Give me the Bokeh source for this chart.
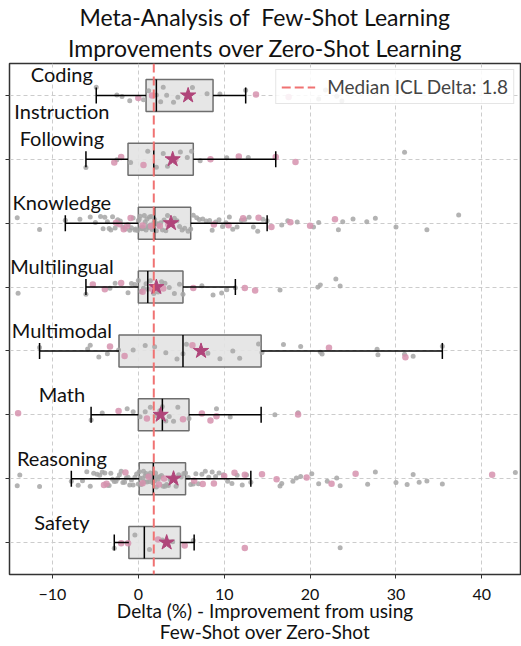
import math
from bokeh.plotting import figure
from bokeh.models import (ColumnDataSource, Range1d, Span, Legend, LegendItem, Title,
                          FixedTicker, CustomJSTickFormatter)
from bokeh.transform import jitter
from bokeh.core.properties import value
from bokeh.embed import file_html
from bokeh.resources import INLINE

# ---------------- data ----------------
categories = ["Coding", "Instruction Following", "Knowledge", "Multilingual",
              "Multimodal", "Math", "Reasoning", "Safety"]
label_texts = ["Coding", "Instruction\nFollowing", "Knowledge", "Multilingual",
               "Multimodal", "Math", "Reasoning", "Safety"]

q1 = [0.9, -1.2, 0.0, 0.0, -2.25, 0.0, 0.1, -1.1]
median = [2.1, 1.8, 1.9, 1.1, 5.2, 2.8, 1.75, 0.7]
q3 = [8.7, 6.4, 6.1, 5.2, 14.3, 5.9, 5.5, 4.9]
whisker_lo = [-4.9, -6.1, -8.5, -6.1, -11.5, -5.5, -7.8, -2.8]
whisker_hi = [12.5, 16.0, 15.0, 11.3, 35.4, 14.3, 13.1, 6.5]
mean = [5.8, 4.0, 3.8, 2.1, 7.3, 2.6, 4.1, 3.3]

median_delta = 1.8

coding_grey = [-4.9, -2.5, -1.9, -1.0, 0.6, 1.2, 2.1, 2.6, 2.9, 3.3, 4.1, 4.6, 6.3, 8.0,
               9.5, 12.5, 21.0, 21.8, 23.1, 23.7]
coding_pink = [0.0, 1.6, 13.7, 17.5]

instr_grey = [-6.1, -2.5, -0.9, 1.1, 2.1, 2.9, 3.4, 4.9, 5.7, 6.2, 7.2, 10.3, 12.8, 31.0]
instr_pink = [-2.8, -2.0, 0.6, 4.3, 8.4, 11.7, 16.0, 18.3]

knowledge_grey = [-14.1, -11.5, -8.5, -6.8, -5.6, -5.0, -4.4, -4.1, -3.9, -3.6, -3.4, -3.2,
                  -3.0, -2.7, -2.4, -2.1, -1.8, -1.5, -1.2, -1.0, -0.8, -0.6, -0.4, -0.3,
                  -0.1, 0.0, 0.1, 0.2, 0.3, 0.4, 0.5, 0.6, 0.7, 0.8, 0.9, 1.0, 1.1, 1.2,
                  1.3, 1.4, 1.5, 1.6, 1.7, 1.8, 1.9, 2.0, 2.1, 2.2, 2.4, 2.6, 2.8, 3.0,
                  3.2, 3.4, 3.6, 3.9, 4.2, 4.5, 4.8, 5.1, 5.4, 5.8, 6.1, 6.4, 6.8, 7.1,
                  7.5, 7.9, 8.3, 8.6, 9.0, 9.4, 9.8, 10.2, 10.6, 11.0, 11.5, 12.0, 12.4,
                  12.9, 13.4, 13.9, 14.5, 15.0, 16.7, 17.4, 18.5, 20.4, 21.0, 23.3, 23.8,
                  25.0, 26.6, 27.6, 30.0, 33.6, 37.3]
knowledge_pink = [-2.6, -2.2, -1.7, -1.3, -0.9, 0.5, 1.5, 2.5, 3.5, 8.8, 10.5, 12.2, 14.0,
                  15.5, 17.7, 20.0, 22.9]

multilingual_grey = [-14.0, -6.1, -3.3, -2.7, -1.2, -0.8, -0.4, 0.0, 0.3, 0.6, 0.9, 1.1,
                     1.4, 1.8, 2.3, 2.7, 3.1, 3.6, 4.2, 4.8, 5.2, 7.4, 8.7, 9.7, 10.3,
                     11.3, 16.5, 20.9, 21.2, 23.0, 23.5]
multilingual_pink = [-5.3, -3.9, -2.0, 0.5, 1.6, 2.9, 6.4, 12.4, 13.6]

multimodal_grey = [-11.5, -5.9, -5.6, -4.6, -3.6, -2.3, -0.6, 0.8, 1.9, 3.2, 4.5, 5.2, 5.6,
                   8.1, 9.5, 11.0, 11.8, 14.0, 14.4, 16.9, 18.9, 21.2, 21.4, 27.8, 27.9,
                   31.0, 32.0, 35.4]
multimodal_pink = [-3.3, -1.6, 6.3, 22.2, 31.1]

math_grey = [-5.5, -4.2, -1.3, -0.6, 0.2, 0.8, 1.4, 2.0, 2.5, 2.8, 3.2, 3.6, 4.1, 4.6, 5.9,
             9.1, 10.7, 15.9, 18.6]
math_pink = [-14.0, -2.3, 1.0, 5.2, 7.4, 8.4, 9.1, 18.6]

reasoning_grey = [-14.1, -13.8, -11.5, -7.8, -7.0, -6.5, -6.0, -5.6, -5.2, -4.8, -4.5, -4.2,
                  -3.9, -3.6, -3.4, -3.2, -3.0, -2.8, -2.6, -2.4, -2.2, -2.0, -1.8, -1.6,
                  -1.4, -1.2, -1.0, -0.8, -0.6, -0.4, -0.2, 0.0, 0.1, 0.2, 0.3, 0.4, 0.5,
                  0.6, 0.7, 0.8, 0.9, 1.0, 1.1, 1.2, 1.3, 1.4, 1.5, 1.6, 1.7, 1.8, 1.9,
                  2.0, 2.1, 2.2, 2.3, 2.5, 2.7, 2.9, 3.1, 3.3, 3.5, 3.7, 3.9, 4.1, 4.4,
                  4.7, 5.0, 5.3, 5.5, 5.8, 6.1, 6.4, 6.7, 7.0, 7.4, 7.8, 8.2, 8.6, 9.0,
                  9.4, 9.9, 10.4, 10.9, 11.5, 12.1, 12.6, 13.1, 16.5, 16.7, 18.0, 18.4,
                  18.9, 20.2, 21.0, 22.0, 23.1, 23.5, 26.7, 27.6, 30.0, 31.3, 32.0, 32.7,
                  33.6, 35.4, 43.9]
reasoning_pink = [-4.0, -3.7, -1.5, 0.5, 1.2, 2.4, 3.0, 6.5, 7.5, 8.8, 10.0, 11.2, 12.4,
                  14.4, 16.1, 19.6, 22.5, 25.3, 41.2]

safety_grey = [-2.8, -0.4, 1.3, 2.8, 4.0, 6.4, 23.5]
safety_pink = [-2.0, -1.2, 2.3, 5.4, 12.4]

grey_lists = [coding_grey, instr_grey, knowledge_grey, multilingual_grey,
              multimodal_grey, math_grey, reasoning_grey, safety_grey]
pink_lists = [coding_pink, instr_pink, knowledge_pink, multilingual_pink,
              multimodal_pink, math_pink, reasoning_pink, safety_pink]

title_line1 = "Meta-Analysis of \u00a0Few-Shot Learning"
title_line2 = "Improvements over Zero-Shot Learning"
x_label = "Delta (%) - Improvement from using\nFew-Shot over Zero-Shot"
x_ticks = [-10, 0, 10, 20, 30, 40]

# ---------------- sources ----------------
rows = list(range(len(categories)))  # row position of each category (top to bottom)
box_src = ColumnDataSource(dict(row=rows, cat=categories, q1=q1, med=median, q3=q3,
                                lo=whisker_lo, hi=whisker_hi, mean=mean))


def points_source(lists):
    rs, xs = [], []
    for r, vals in zip(rows, lists):
        rs += [r] * len(vals)
        xs += vals
    return ColumnDataSource(dict(row=rs, x=xs))


grey_src = points_source(grey_lists)
pink_src = points_source(pink_lists)
label_src = ColumnDataSource(dict(row=rows, text=label_texts))

FONT = "Lato"
TXT = "#111111"

p = figure(width=521, height=646, output_backend="svg", toolbar_location=None,
           x_range=Range1d(-15.0, 44.5),
           y_range=Range1d(len(categories) - 0.5, -0.5),
           title=title_line1,
           min_border_left=9, min_border_right=1, min_border_top=10, min_border_bottom=0)

p.title.align = "center"
p.title.text_font = FONT
p.title.text_font_size = "23px"
p.title.text_font_style = "normal"
p.title.text_color = TXT
p.title.text_line_height = 1.1
p.title.standoff = 0
p.title.offset = 0
p.add_layout(Title(text=title_line2, align="center", text_font=FONT,
                   text_font_size="23px", text_font_style="normal", text_color=TXT,
                   text_line_height=1.1, standoff=3, offset=0), "above")

# axes
p.xaxis.ticker = FixedTicker(ticks=x_ticks)
p.xaxis.formatter = CustomJSTickFormatter(
    code="return tick < 0 ? '\u2212' + (-tick) : '' + tick;")
p.xaxis.major_label_text_font = FONT
p.xaxis.major_label_text_font_size = "16px"
p.xaxis.major_label_text_color = TXT
p.xaxis.axis_label = x_label
p.xaxis.axis_label_text_font = FONT
p.xaxis.axis_label_text_font_size = "19px"
p.xaxis.axis_label_text_font_style = "normal"
p.xaxis.axis_label_text_color = TXT
p.xaxis.axis_label_text_line_height = 0.95
p.xaxis.axis_label_standoff = -4
p.xaxis.major_label_standoff = 10
p.xaxis.major_tick_out = 4
p.xaxis.major_tick_in = 0
p.xaxis.minor_tick_line_color = None
p.xaxis.axis_line_color = None
p.xaxis.major_tick_line_color = "#333333"

# y axis: ticks only, one per category row (category names are drawn inside the plot)
p.yaxis.ticker = FixedTicker(ticks=rows)
p.yaxis.formatter = CustomJSTickFormatter(code="return '';")
p.yaxis.major_label_text_color = None
p.yaxis.major_label_standoff = 0
p.yaxis.major_tick_out = 4
p.yaxis.major_tick_in = 0
p.yaxis.minor_tick_line_color = None
p.yaxis.axis_line_color = None
p.yaxis.major_tick_line_color = "#333333"

p.outline_line_color = "#333333"
p.outline_line_width = 1.5

for g in (p.xgrid, p.ygrid):
    g.grid_line_color = "#cccccc"
    g.grid_line_dash = "4 3"
    g.grid_line_width = 1

# boxes
p.hbar(y="row", left="q1", right="q3", height=0.5, source=box_src,
       fill_color="#e3e3e3", fill_alpha=0.9, line_color="#6e6e6e", line_width=1.5)

# points
p.scatter(x="x", y=jitter("row", width=0.26), source=grey_src,
          size=5, fill_color="#a6a6a6", line_color=None, fill_alpha=0.85)
p.scatter(x="x", y=jitter("row", width=0.2), source=pink_src,
          size=6.5, fill_color="#d692ae", line_color=None, fill_alpha=0.85)

# whiskers
p.segment(x0="lo", y0="row", x1="q1", y1="row", source=box_src,
          line_color="black", line_width=1.5)
p.segment(x0="q3", y0="row", x1="hi", y1="row", source=box_src,
          line_color="black", line_width=1.5)
p.scatter(x="lo", y="row", source=box_src, marker="dash", angle=math.pi / 2, size=16,
          line_color="black", line_width=1.5)
p.scatter(x="hi", y="row", source=box_src, marker="dash", angle=math.pi / 2, size=16,
          line_color="black", line_width=1.5)
# medians
p.scatter(x="med", y="row", source=box_src, marker="dash", angle=math.pi / 2, size=32,
          line_color="black", line_width=1.5)

# median delta line
RED = "#f07272"
span = Span(location=median_delta, dimension="height", line_color=RED,
            line_dash="9 4", line_width=2)
p.add_layout(span)
# legend proxy (drawn outside the visible x range)
legend_line = p.line(x=[-100, -99], y=[0, 0], line_color=RED,
                     line_dash="9 4", line_width=2)

# means
p.scatter(x="mean", y="row", source=box_src, marker="star", size=16,
          fill_color="#b0457a", line_color="#b0457a")

# category labels
p.text(x=-8.9, y="row", text="text", source=label_src, text_font=value(FONT),
       text_font_size="20px", text_align="center", text_baseline="bottom",
       text_line_height=1.15, y_offset=-9, text_color=TXT)

legend = Legend(items=[LegendItem(label=f"Median ICL Delta: {median_delta}",
                                  renderers=[legend_line])],
                location="top_right", margin=6, padding=5, spacing=0,
                glyph_width=34, label_standoff=12,
                label_text_font=FONT, label_text_font_size="19px",
                border_line_color="#cccccc", background_fill_alpha=0.85)
p.add_layout(legend)

open("out.html", "w").write(file_html(p, INLINE))
